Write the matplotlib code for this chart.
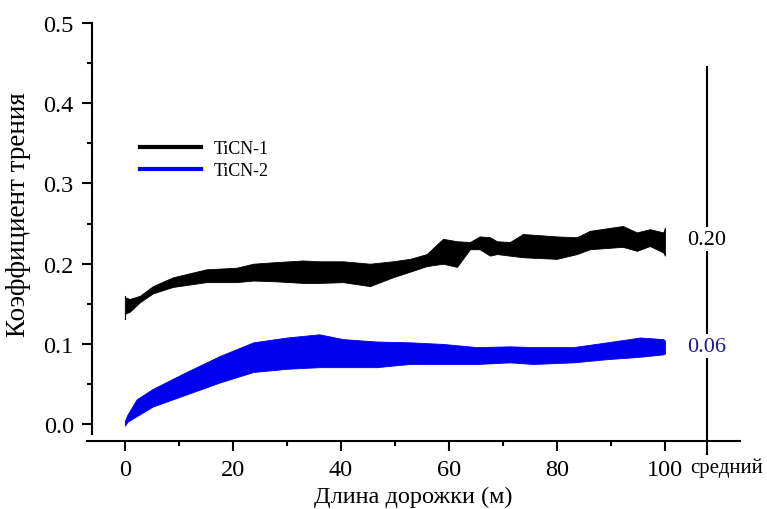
import numpy as np
import matplotlib
matplotlib.use('Agg')
import matplotlib.pyplot as plt
from matplotlib.lines import Line2D
from matplotlib.ticker import MultipleLocator, FormatStrFormatter

plt.rcParams['font.family'] = ['Liberation Serif', 'DejaVu Serif']

# TiCN-1 band (distance m, lower, upper)
x1 = [0, 0.1, 0.9, 2.8, 5.2, 8.9, 15.1, 20.7, 23.8, 28, 33, 36, 40.4, 45.4, 49.6,
      52.8, 55.9, 58.9, 61.5, 63.9, 65.7, 67.6, 68.9, 71.3, 73.7, 80, 83.7, 86.1,
      92.2, 94.8, 97.2, 99.7, 100]
lo1 = [0.131, 0.138, 0.140, 0.152, 0.163, 0.171, 0.177, 0.177, 0.179, 0.178, 0.176,
       0.176, 0.177, 0.172, 0.183, 0.190, 0.197, 0.200, 0.196, 0.218, 0.218, 0.210,
       0.212, 0.210, 0.208, 0.206, 0.212, 0.218, 0.221, 0.216, 0.222, 0.214, 0.210]
hi1 = [0.160, 0.158, 0.156, 0.160, 0.172, 0.183, 0.193, 0.195, 0.200, 0.202, 0.204,
       0.203, 0.203, 0.200, 0.203, 0.206, 0.212, 0.231, 0.228, 0.227, 0.234, 0.233,
       0.228, 0.227, 0.237, 0.234, 0.233, 0.241, 0.247, 0.239, 0.243, 0.239, 0.245]

# TiCN-2 band
x2 = [0, 0.5, 2.2, 5.2, 11.4, 17.6, 23.8, 30, 36, 40.4, 46.6, 52.8, 58.9, 65.2,
      71.3, 75.6, 83, 89.3, 95.4, 99.7, 100]
lo2 = [-0.002, 0.003, 0.010, 0.022, 0.037, 0.052, 0.065, 0.069, 0.071, 0.071, 0.071,
       0.075, 0.075, 0.075, 0.077, 0.075, 0.077, 0.081, 0.084, 0.087, 0.088]
hi2 = [0.004, 0.012, 0.031, 0.044, 0.065, 0.085, 0.102, 0.108, 0.112, 0.106, 0.103,
       0.102, 0.100, 0.096, 0.097, 0.096, 0.096, 0.102, 0.108, 0.106, 0.104]

labels = ['TiCN-1', 'TiCN-2']
colors = ['black', '#0000ee']
mean_x = 107.8
mean_y = [0.2307, 0.097]
mean_text = ['0.20', '0.06']
mean_colors = ['black', '#1a1a8c']

fig = plt.figure(figsize=(7.67, 5.10), dpi=100)
ax = fig.add_axes([87 / 767, 1 - 442 / 510, 653 / 767, 418 / 510])

ax.fill_between(x1, lo1, hi1, color=colors[0], lw=0.6)
ax.fill_between(x2, lo2, hi2, color=colors[1], lw=0.6)

ax.set_xlim(-7, 113.9)
ax.set_ylim(-0.021, 0.5)

for s in ['top', 'right']:
    ax.spines[s].set_visible(False)
ax.spines['left'].set_position(('data', -6.1))
ax.spines['left'].set_bounds(-0.0125, 0.5)
for s in ['left', 'bottom']:
    ax.spines[s].set_linewidth(1.5)

ax.set_xticks([0, 20, 40, 60, 80, 100])
ax.set_xticks([10, 30, 50, 70, 90], minor=True)
ax.yaxis.set_major_locator(MultipleLocator(0.1))
ax.yaxis.set_minor_locator(MultipleLocator(0.05))
ax.yaxis.set_major_formatter(FormatStrFormatter('%.1f'))
ax.tick_params(which='major', length=7, width=1.5, labelsize=17.5, pad=6)
ax.tick_params(which='minor', length=3.5, width=1.5)

ax.set_xlabel('Длина дорожки (м)', fontsize=17.5, labelpad=4)
ax.set_ylabel('Коэффициент трения', fontsize=19.5)
ax.yaxis.set_label_coords(-0.085, 0.545)

# mean axis
ax.plot([mean_x, mean_x], [0.445, -0.037], color='black', lw=1.5, clip_on=False)
for yv, t, c in zip(mean_y, mean_text, mean_colors):
    ax.text(mean_x, yv, t, color=c, fontsize=16, ha='center', va='center',
            bbox=dict(facecolor='white', edgecolor='none', pad=2))
ax.text(104.6, -0.041, 'средний', fontsize=15, ha='left', va='top', clip_on=False)

handles = [Line2D([], [], color=c, lw=3) for c in colors]
ax.legend(handles, labels, loc='upper left', bbox_to_anchor=(0.081, 0.72),
          frameon=False, fontsize=13, handlelength=3.4, handletextpad=0.7,
          labelspacing=0.3, borderpad=0, borderaxespad=0)

fig.savefig('out.png', dpi=100)
